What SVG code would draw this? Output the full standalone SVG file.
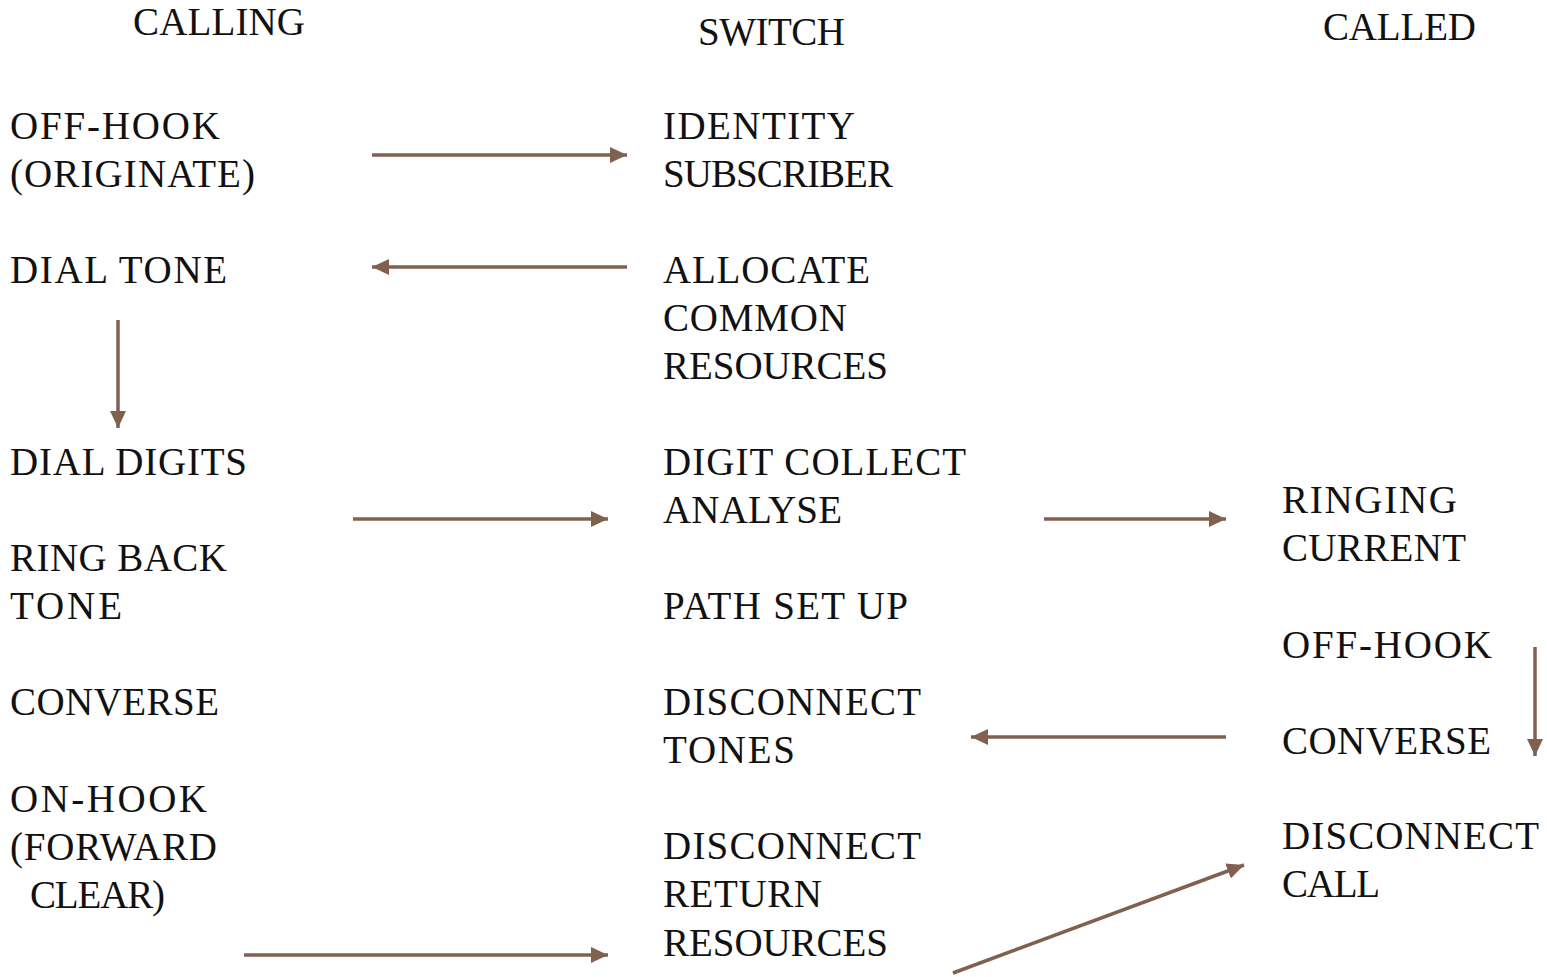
<svg xmlns="http://www.w3.org/2000/svg" width="1547" height="977" viewBox="0 0 1547 977">
<style>
text{font-family:"Liberation Serif","Times New Roman",serif;font-size:39px;fill:#111}
.c line{stroke:#80604f;stroke-width:3.5;fill:none}
</style>
<defs>
<marker id="ah" markerUnits="userSpaceOnUse" markerWidth="17" markerHeight="16" refX="17" refY="8" orient="auto">
<path d="M0,0 L17,8 L0,16 Z" fill="#80604f"/>
</marker>
</defs>
<rect width="1547" height="977" fill="#fff"/>
<g id="h-calling"><text x="133" y="35" textLength="172" lengthAdjust="spacing">CALLING</text></g>
<g id="h-switch"><text x="698" y="45" textLength="147" lengthAdjust="spacing">SWITCH</text></g>
<g id="h-called"><text x="1323" y="40" textLength="153" lengthAdjust="spacing">CALLED</text></g>

<g id="n-offhook"><text x="10" y="139" textLength="210" lengthAdjust="spacing">OFF-HOOK</text><text x="10" y="187" textLength="245" lengthAdjust="spacing">(ORIGINATE)</text></g>
<g id="n-dialtone"><text x="10" y="283" textLength="217" lengthAdjust="spacing">DIAL TONE</text></g>
<g id="n-dialdigits"><text x="10" y="475" textLength="237" lengthAdjust="spacing">DIAL DIGITS</text></g>
<g id="n-ringback"><text x="10" y="571" textLength="217" lengthAdjust="spacing">RING BACK</text><text x="10" y="619" textLength="112" lengthAdjust="spacing">TONE</text></g>
<g id="n-converse1"><text x="10" y="715" textLength="209" lengthAdjust="spacing">CONVERSE</text></g>
<g id="n-onhook"><text x="10" y="812" textLength="197" lengthAdjust="spacing">ON-HOOK</text><text x="10" y="860" textLength="207" lengthAdjust="spacing">(FORWARD</text><text x="30" y="908" textLength="135" lengthAdjust="spacing">CLEAR)</text></g>

<g id="n-identity"><text x="663" y="139" textLength="192" lengthAdjust="spacing">IDENTITY</text><text x="663" y="187" textLength="230" lengthAdjust="spacing">SUBSCRIBER</text></g>
<g id="n-allocate"><text x="663" y="283" textLength="207" lengthAdjust="spacing">ALLOCATE</text><text x="663" y="331" textLength="184" lengthAdjust="spacing">COMMON</text><text x="663" y="379" textLength="225" lengthAdjust="spacing">RESOURCES</text></g>
<g id="n-digit"><text x="663" y="475" textLength="303" lengthAdjust="spacing">DIGIT COLLECT</text><text x="663" y="523" textLength="179" lengthAdjust="spacing">ANALYSE</text></g>
<g id="n-path"><text x="663" y="619" textLength="245" lengthAdjust="spacing">PATH SET UP</text></g>
<g id="n-disctones"><text x="663" y="715" textLength="258" lengthAdjust="spacing">DISCONNECT</text><text x="663" y="763" textLength="132" lengthAdjust="spacing">TONES</text></g>
<g id="n-discreturn"><text x="663" y="859" textLength="258" lengthAdjust="spacing">DISCONNECT</text><text x="663" y="907" textLength="159" lengthAdjust="spacing">RETURN</text><text x="663" y="956" textLength="225" lengthAdjust="spacing">RESOURCES</text></g>

<g id="n-ringing"><text x="1282" y="513" textLength="175" lengthAdjust="spacing">RINGING</text><text x="1282" y="561" textLength="184" lengthAdjust="spacing">CURRENT</text></g>
<g id="n-offhook2"><text x="1282" y="658" textLength="210" lengthAdjust="spacing">OFF-HOOK</text></g>
<g id="n-converse2"><text x="1282" y="754" textLength="209" lengthAdjust="spacing">CONVERSE</text></g>
<g id="n-disccall"><text x="1282" y="849" textLength="257" lengthAdjust="spacing">DISCONNECT</text><text x="1282" y="897" textLength="98" lengthAdjust="spacing">CALL</text></g>

<g id="connectors" class="c">
<line x1="372" y1="155" x2="627" y2="155" marker-end="url(#ah)"/>
<line x1="627" y1="267" x2="372" y2="267" marker-end="url(#ah)"/>
<line x1="118" y1="320" x2="118" y2="428" marker-end="url(#ah)"/>
<line x1="353" y1="519" x2="608" y2="519" marker-end="url(#ah)"/>
<line x1="1044" y1="519" x2="1226" y2="519" marker-end="url(#ah)"/>
<line x1="1226" y1="737" x2="971" y2="737" marker-end="url(#ah)"/>
<line x1="1535" y1="647" x2="1535" y2="756" marker-end="url(#ah)"/>
<line x1="244" y1="955" x2="608" y2="955" marker-end="url(#ah)"/>
<line x1="953" y1="973" x2="1244" y2="865" marker-end="url(#ah)"/>
</g>
</svg>
